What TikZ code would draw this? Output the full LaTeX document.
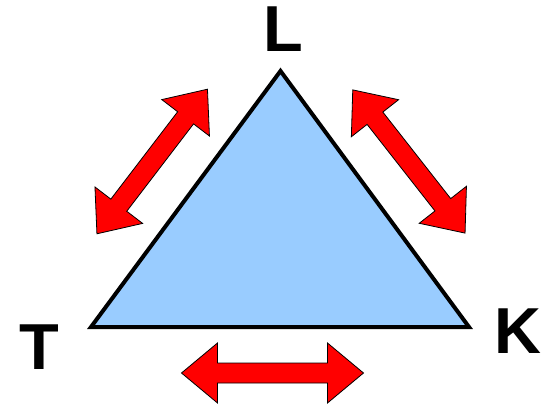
\documentclass[tikz,border=0pt]{standalone}
\usepackage{fontspec}
\setmainfont{Liberation Sans}
\definecolor{triblue}{HTML}{99CCFF}
\definecolor{arrred}{HTML}{FF0000}
\tikzset{
  tri/.style={draw=black, line width=4pt, fill=triblue, line join=miter},
  redarrow/.style={draw=black, line width=0.8pt, fill=arrred, line join=miter},
  lbl/.style={font=\bfseries\fontsize{65}{65}\selectfont, inner sep=0pt, anchor=center}
}
\newcommand{\myDblArrow}[3]{%
  \begin{scope}[shift={(#1,#2)}, rotate=#3]
    \draw[redarrow] (-91,0) -- (-55,30) -- (-55,10) -- (55,10) -- (55,30) -- (91,0)
      -- (55,-30) -- (55,-10) -- (-55,-10) -- (-55,-30) -- cycle;
  \end{scope}}
\begin{document}
\begin{tikzpicture}[x=1pt, y=1pt]
  \useasboundingbox (0,0) rectangle (546,405);
  \coordinate (vT) at (91,78);
  \coordinate (vK) at (469,78);
  \coordinate (vL) at (280.5,334);
  \draw[tri] (vT) -- (vK) -- (vL) -- cycle;
  \node[lbl] (L) at (283,375.5) {L};
  \node[lbl] (T) at (39,58) {T};
  \node[lbl] (K) at (517.5,73.5) {K};
  \myDblArrow{272.5}{32}{0}
  \myDblArrow{152.2}{243.5}{52.6}
  \myDblArrow{408.9}{243.5}{-51.9}
\end{tikzpicture}
\end{document}
